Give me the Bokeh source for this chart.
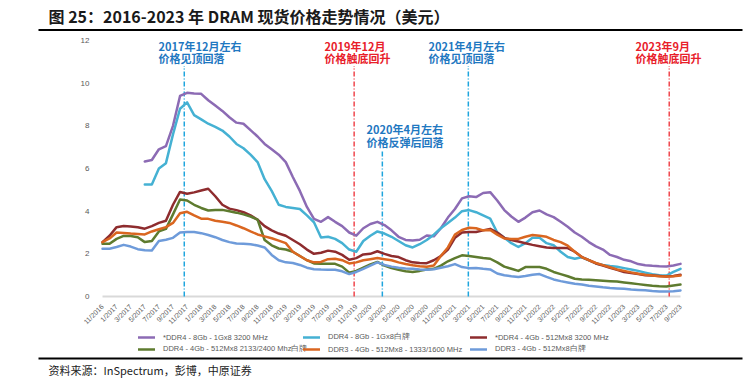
import math
import numpy as np
from bokeh.plotting import figure
from bokeh.models import Range1d, FixedTicker, Label, Legend, LegendItem
from bokeh.embed import file_html
from bokeh.resources import INLINE

# ---------------- data ----------------
months = list(range(83))  # 0 = 11/2016 ... 82 = 9/2023
tick_positions = list(range(0, 83, 2))
tick_labels = ["11/2016", "1/2017", "3/2017", "5/2017", "7/2017", "9/2017", "11/2017",
               "1/2018", "3/2018", "5/2018", "7/2018", "9/2018", "11/2018",
               "1/2019", "3/2019", "5/2019", "7/2019", "9/2019", "11/2019",
               "1/2020", "3/2020", "5/2020", "7/2020", "9/2020", "11/2020",
               "1/2021", "3/2021", "5/2021", "7/2021", "9/2021", "11/2021",
               "1/2022", "3/2022", "5/2022", "7/2022", "9/2022", "11/2022",
               "1/2023", "3/2023", "5/2023", "7/2023", "9/2023"]
y_ticks = [0, 2, 4, 6, 8, 10, 12]

ddr4_8gb_3200 = [None]*6 + [
    6.33, 6.4, 6.9, 7.05, 8.0, 9.4, 9.55, 9.52, 9.5, 9.2, 8.95, 8.7, 8.4, 8.15, 8.1, 7.8,
    7.5, 7.15, 6.9, 6.65, 6.3, 5.6, 4.95, 4.2, 3.64, 3.5, 3.72, 3.5, 3.3, 3.0, 2.85, 3.2,
    3.4, 3.5, 3.35, 3.1, 2.8, 2.65, 2.63, 2.66, 2.86, 2.82, 3.2, 3.7, 4.1, 4.6, 4.7, 4.66,
    4.85, 4.89, 4.5, 4.05, 3.75, 3.5, 3.7, 3.95, 4.03, 3.85, 3.72, 3.5, 3.27, 3.0, 2.8, 2.55,
    2.35, 2.2, 1.95, 1.85, 1.72, 1.65, 1.52, 1.47, 1.44, 1.42, 1.41, 1.45, 1.53]
ddr4_8gb_white = [None]*6 + [
    5.25, 5.25, 6.0, 6.25, 7.6, 8.8, 9.1, 8.5, 8.3, 8.1, 7.95, 7.78, 7.5, 7.15, 6.95, 6.65,
    6.3, 5.5, 4.95, 4.3, 4.2, 4.15, 4.1, 3.8, 3.48, 2.77, 2.8, 2.7, 2.5, 2.2, 2.1, 2.6,
    2.85, 3.05, 2.95, 2.8, 2.6, 2.4, 2.3, 2.45, 2.65, 2.9, 3.2, 3.45, 3.7, 4.0, 4.05, 3.95,
    3.8, 3.65, 3.0, 2.75, 2.5, 2.32, 2.5, 2.75, 2.75, 2.5, 2.4, 2.1, 1.85, 1.77, 1.84, 1.7,
    1.55, 1.48, 1.43, 1.39, 1.33, 1.27, 1.2, 1.12, 1.04, 1.0, 0.98, 1.15, 1.3]
ddr4_4gb_3200 = [
    2.55, 2.85, 3.25, 3.3, 3.28, 3.25, 3.18, 3.3, 3.45, 3.55, 4.3, 4.9, 4.82, 4.88, 4.97, 5.05,
    4.7, 4.3, 4.12, 4.05, 3.95, 3.8, 3.6, 3.3, 3.1, 2.95, 2.85, 2.65, 2.45, 2.2, 2.0, 2.05,
    2.15, 2.1, 1.95, 1.72, 1.8, 1.97, 2.0, 2.12, 2.0, 1.9, 1.85, 1.7, 1.6, 1.57, 1.56, 1.7,
    1.9, 2.2, 2.75, 3.0, 3.02, 3.02, 3.1, 3.17, 3.0, 2.75, 2.65, 2.58, 2.5, 2.42, 2.36, 2.3,
    2.27, 2.27, 2.27, 2.1, 1.85, 1.7, 1.55, 1.45, 1.35, 1.25, 1.15, 1.1, 1.05, 1.0, 0.98, 0.96,
    0.94, 0.96, 1.02]
ddr4_4gb_white = [
    2.47, 2.47, 2.7, 2.84, 2.84, 2.78, 2.55, 2.6, 3.05, 3.17, 3.85, 4.55, 4.5, 4.3, 4.15, 4.03,
    4.05, 4.06, 4.0, 3.93, 3.85, 3.75, 3.6, 2.65, 2.4, 2.25, 2.2, 2.1, 1.9, 1.7, 1.55, 1.53,
    1.53, 1.53, 1.4, 1.12, 1.2, 1.35, 1.5, 1.62, 1.45, 1.33, 1.25, 1.18, 1.15, 1.2, 1.27, 1.3,
    1.45, 1.65, 1.8, 1.93, 1.9, 1.85, 1.8, 1.77, 1.6, 1.4, 1.3, 1.2, 1.38, 1.38, 1.38, 1.3,
    1.15, 1.05, 0.95, 0.83, 0.8, 0.78, 0.76, 0.74, 0.72, 0.7, 0.66, 0.62, 0.58, 0.54, 0.5, 0.48,
    0.47, 0.52, 0.56]
ddr3_4gb_1600 = [
    2.55, 2.72, 3.0, 2.98, 2.95, 2.93, 2.91, 3.05, 3.15, 3.25, 3.45, 3.9, 3.97, 3.8, 3.65, 3.64,
    3.55, 3.5, 3.45, 3.33, 3.2, 3.05, 2.91, 2.82, 2.73, 2.62, 2.5, 2.1, 1.9, 1.7, 1.6, 1.62,
    1.75, 1.77, 1.7, 1.55, 1.6, 1.7, 1.75, 1.8, 1.75, 1.7, 1.6, 1.52, 1.46, 1.42, 1.39, 1.45,
    1.9, 2.3, 2.9, 3.12, 3.22, 3.2, 3.1, 3.12, 2.9, 2.72, 2.7, 2.7, 2.8, 2.88, 2.85, 2.8,
    2.65, 2.55, 2.38, 2.1, 1.85, 1.7, 1.57, 1.47, 1.37, 1.27, 1.2, 1.13, 1.07, 1.02, 0.98, 0.95,
    0.94, 0.95, 0.98]
ddr3_4gb_white = [
    2.24, 2.24, 2.32, 2.42, 2.34, 2.22, 2.17, 2.16, 2.6, 2.66, 2.75, 3.0, 3.02, 3.02, 2.97, 2.88,
    2.78, 2.65, 2.55, 2.48, 2.47, 2.45, 2.39, 2.3, 1.95, 1.7, 1.6, 1.57, 1.48, 1.35, 1.28, 1.26,
    1.25, 1.25, 1.18, 1.05, 1.15, 1.3, 1.45, 1.6, 1.48, 1.4, 1.35, 1.31, 1.3, 1.27, 1.25, 1.28,
    1.35, 1.42, 1.52, 1.38, 1.33, 1.34, 1.3, 1.27, 1.08, 1.0, 0.95, 0.91, 0.96, 1.02, 1.05, 0.92,
    0.8, 0.72, 0.66, 0.6, 0.56, 0.5, 0.47, 0.43, 0.4, 0.38, 0.36, 0.33, 0.31, 0.29, 0.26, 0.24,
    0.23, 0.25, 0.28]

series_names = ["*DDR4 - 8Gb - 1Gx8 3200 MHz", "DDR4 - 8Gb - 1Gx8白牌",
                "*DDR4 - 4Gb - 512Mx8 3200 MHz", "DDR4 - 4Gb - 512Mx8 2133/2400 Mhz白牌",
                "DDR3 - 4Gb - 512Mx8 - 1333/1600 MHz", "DDR3 - 4Gb - 512Mx8白牌"]
series_values = [ddr4_8gb_3200, ddr4_8gb_white, ddr4_4gb_3200, ddr4_4gb_white,
                 ddr3_4gb_1600, ddr3_4gb_white]
series_colors = ["#8C6BB4", "#45B1D3", "#8E2C2E", "#5E7B2F", "#DA6620", "#6E9BDA"]

# events (month index position of marker lines)
event_x = [11.6, 35.7, 39.7, 51.9, 80.4]
event_top = [10.8, 10.8, 6.85, 10.8, 10.8]
event_colors = ["#1EA5DE", "#F0464C", "#1EA5DE", "#1EA5DE", "#F0464C"]
event_line1 = ["2017年12月左右", "2019年12月", "2020年4月左右", "2021年4月左右", "2023年9月"]
event_line2 = ["价格见顶回落", "价格触底回升", "价格反弹后回落", "价格见顶回落", "价格触底回升"]
event_text_colors = ["#1F78C1", "#E8202A", "#1F78C1", "#1F78C1", "#E8202A"]

title_text = "图 25：2016-2023 年 DRAM 现货价格走势情况（美元）"
source_text = "资料来源：InSpectrum，彭博，中原证券"

CJK = "Noto Sans CJK SC"
W, H = 748, 380

# ---------------- mapping of page pixels to data (frame = whole canvas) ----------------
FL, FB = 102.0, 296.0                 # pixel position of month 0 / value 0
PXM, PXV = 578.0 / 82.0, 256.0 / 12.0  # pixels per month / per unit
def dx(px):
    return (px - FL) / PXM
def dy(py):
    return (FB - py) / PXV

p = figure(width=W, height=H, output_backend="svg", toolbar_location=None,
           x_range=Range1d(dx(0), dx(W)), y_range=Range1d(dy(H), dy(0)),
           min_border=0)
p.outline_line_color = None
p.xgrid.visible = False
p.ygrid.visible = False

p.xaxis.fixed_location = 0
p.xaxis.ticker = FixedTicker(ticks=tick_positions)
p.xaxis.major_label_overrides = {t: l for t, l in zip(tick_positions, tick_labels)}
p.xaxis.major_label_orientation = math.pi / 4
p.xaxis.axis_line_color = None
p.xaxis.major_tick_line_color = None
p.xaxis.minor_tick_line_color = None
p.xaxis.major_label_text_font = "Liberation Sans"
p.xaxis.major_label_text_font_size = "7px"
p.xaxis.major_label_text_color = "#595959"
p.xaxis.major_label_standoff = 3

p.yaxis.fixed_location = 0
p.yaxis.ticker = FixedTicker(ticks=y_ticks)
p.yaxis.axis_line_color = None
p.yaxis.major_tick_line_color = None
p.yaxis.minor_tick_line_color = None
p.yaxis.major_label_text_font = "Liberation Sans"
p.yaxis.major_label_text_font_size = "8px"
p.yaxis.major_label_text_color = "#595959"
p.yaxis.major_label_standoff = 7

# baseline spanning the data period
p.line([months[0], months[-1]], [0, 0], line_color="#D9D9D9", line_width=2)

# event marker lines
p.segment(x0=event_x, y0=[0]*len(event_x), x1=event_x, y1=event_top,
          line_color=event_colors, line_width=1.5, line_dash="5 2 1 2")

renderers = []
for vals, col in zip(series_values, series_colors):
    y = np.array(vals, dtype=float)
    r = p.line(months, y, line_color=col, line_width=2.5, line_join="round", line_cap="round")
    renderers.append(r)

# event annotations
ann_pos = [(158, 45, 57), (324, 45, 57), (366, 128, 141), (428, 45, 57), (635, 45, 57)]
for (lx, y1, y2), l1, l2, tc in zip(ann_pos, event_line1, event_line2, event_text_colors):
    for yy, t in ((y1, l1), (y2, l2)):
        p.add_layout(Label(x=dx(lx), y=dy(yy), text=t, text_color=tc,
                           text_font=CJK, text_font_style="bold",
                           text_font_size="11px", text_align="left", text_baseline="middle"))

# title + rules + source
p.add_layout(Label(x=dx(48), y=dy(15), text=title_text, text_color="#1A1A1A",
                   text_font=CJK, text_font_style="bold", text_font_size="16px",
                   text_align="left", text_baseline="middle"))
p.segment(x0=[dx(38)], y0=[dy(29.5)], x1=[dx(742)], y1=[dy(29.5)], line_color="black", line_width=2)
p.segment(x0=[dx(38)], y0=[dy(358)], x1=[dx(742)], y1=[dy(358)], line_color="black", line_width=2)
p.add_layout(Label(x=dx(48), y=dy(369), text=source_text, text_color="#222222",
                   text_font=CJK, text_font_size="11px",
                   text_align="left", text_baseline="middle"))

# legends: three columns of two rows (location in px from frame bottom-left)
col_x = [138, 303, 470]
col_items = [[0, 3], [1, 4], [2, 5]]
for cx, idxs in zip(col_x, col_items):
    leg = Legend(items=[LegendItem(label=series_names[i], renderers=[renderers[i]]) for i in idxs],
                 location=(cx, H - 355), orientation="vertical",
                 padding=0, margin=0, spacing=0, glyph_width=17, glyph_height=12,
                 label_height=12, label_standoff=8,
                 label_text_font="Liberation Sans", label_text_font_size="7.5px",
                 label_text_color="#595959",
                 border_line_alpha=0, background_fill_alpha=0)
    p.add_layout(leg)

open("out.html", "w").write(file_html(p, INLINE))
